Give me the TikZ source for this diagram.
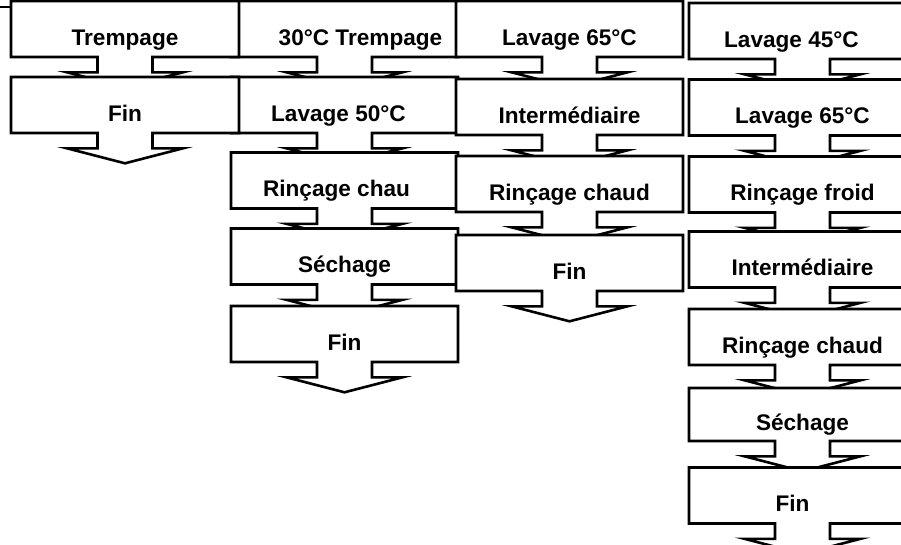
\documentclass[tikz,border=0pt]{standalone}
\usepackage{fontspec}
\setmainfont{Liberation Sans}
\usepackage{tikz}
\usetikzlibrary{shapes.arrows}

\begin{document}
\begin{tikzpicture}[x=1pt,y=-1pt,
  washbox/.style={arrow box, draw, fill=white, line width=2.6pt,
    minimum width=227pt, minimum height=56pt, inner sep=0pt,
    arrow box arrows={north:none, east:none, west:none, south:29pt from border},
    arrow box shaft width=55pt, arrow box head extend=30pt,
    arrow box head indent=0pt, arrow box tip angle=151,
    font=\fontsize{22.6}{26}\selectfont\bfseries,
    text height=32pt, text depth=0pt}]
\clip (0,0) rectangle (901,544);
% second column
\node[washbox] (trempB) at (344.5,29) {\kern32pt 30°C Trempage};
\node[washbox] (lavB) at (344.5,105) {Lavage 50°C\kern12pt};
\node[washbox] (rincB) at (344.5,180.5) {Rinçage chau\kern16pt};
\node[washbox] (sechB) at (344.5,256.5) {Séchage};
\node[washbox] (finB) at (344.5,334) {Fin};
% first column
\node[washbox, minimum width=228pt] (trempA) at (125,29) {Trempage};
\node[washbox, minimum width=228pt] (finA) at (125,105) {Fin};
\draw[line width=2.6pt] (0,7) -- (11,7);
% third column
\node[washbox] (lavC) at (569.5,29) {Lavage 65°C};
\node[washbox] (interC) at (569.5,107) {Intermédiaire};
\node[washbox] (rincC) at (569.5,184) {Rinçage chaud};
\node[washbox] (finC) at (569.5,263) {Fin};
% fourth column
\node[washbox] (lavD) at (802.5,31) {Lavage 45°C\kern22pt};
\node[washbox] (lavE) at (802.5,107.5) {Lavage 65°C};
\node[washbox] (rincD) at (802.5,184.5) {Rinçage froid};
\node[washbox] (interD) at (802.5,259.5) {Intermédiaire};
\node[washbox] (rincE) at (802.5,337) {Rinçage chaud};
\node[washbox, minimum height=53pt] (sechD) at (802.5,414.5) {Séchage};
\node[washbox] (finD) at (802.5,495.5) {Fin\kern20pt};
\end{tikzpicture}
\end{document}
